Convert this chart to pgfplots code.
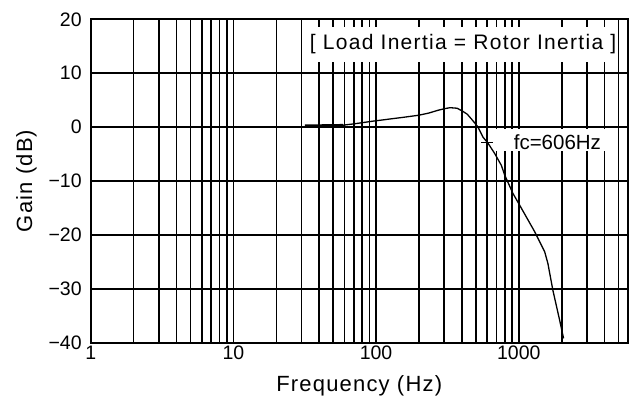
\documentclass[border=0pt]{standalone}
\usepackage{fontspec}
\setmainfont{Liberation Sans}
\newfontfamily\labfont[LetterSpace=5.4]{Liberation Sans}
\newfontfamily\titfont[LetterSpace=6.2]{Liberation Sans}
\usepackage{pgfplots}
\pgfplotsset{compat=1.18}
\begin{document}
\begin{tikzpicture}
\begin{axis}[
 name=ax,
 scale only axis,
 width=537pt, height=323.4pt,
 xmode=log,
 xmin=1, xmax=5800,
 ymin=-40, ymax=20,
 ytick={-40,-30,-20,-10,0,10,20},
 yticklabels={−40,−30,−20,−10,0,10,20},
 xtick={1,10,100,1000},
 xticklabels={1,10,100,1000},
 minor xtick={2,3,4,5,6,7,8,9,20,30,40,50,60,70,80,90,200,300,400,500,600,700,800,900,2000,3000,4000,5000},
 grid=both,
 major grid style={black, line width=1.6pt},
 minor grid style={black, line width=1.6pt},
 axis line style={black, line width=1.7pt},
 major tick length=0pt, minor tick length=0pt,
 tick label style={font=\fontsize{19.5}{20}\selectfont},
 yticklabel style={xshift=-5.5pt},
 label style={font=\labfont\fontsize{22}{24}\selectfont},
 xlabel={Frequency (Hz)},
 ylabel={Gain (dB)},
 xlabel style={yshift=-9pt},
 ylabel style={yshift=5pt},
]
\fill[white] (axis cs:35,12.1) rectangle (axis cs:4950,18.6);
\fill[white] (axis cs:640,-0.3) rectangle (axis cs:4450,-4.5);
\addplot[black, line width=2.5pt] coordinates {(31.7,0.25) (58.5,0.35)};
\addplot[black, line width=1.3pt] coordinates {
(58.5,0.35) (70,0.6) (95,1.1) (125,1.5) (159,1.85) (199,2.2) (234,2.6) (270,3.1)
(300,3.4) (330,3.6) (370,3.5) (407,2.9) (435,2.4) (466,1.5) (490,0.8) (518,0)
(561,-1.85) (609,-3.0) (678,-4.9) (755,-7.1) (797,-8.9) (910,-12.3) (1015,-14.5)
(1292,-19.4) (1518,-23.1) (1600,-25.3) (1735,-30.3) (1933,-35.8) (2061,-39.2)};
\addplot[black, line width=1.3pt, only marks, mark=+, mark size=6pt] coordinates {(600,-2.9)};
\node[font=\titfont\fontsize{21}{24}\selectfont] at (axis cs:407,15.4) {[ Load Inertia = Rotor Inertia ]};
\node[font=\fontsize{20.5}{24}\selectfont, anchor=west, inner sep=0pt] at (axis cs:920,-2.75) {fc=606Hz};
\end{axis}
\pgfresetboundingbox
\path[use as bounding box] ([shift={(-90.7pt,-55.3pt)}]ax.south west) rectangle ([shift={(3.3pt,19.3pt)}]ax.north east);
\end{tikzpicture}
\end{document}
